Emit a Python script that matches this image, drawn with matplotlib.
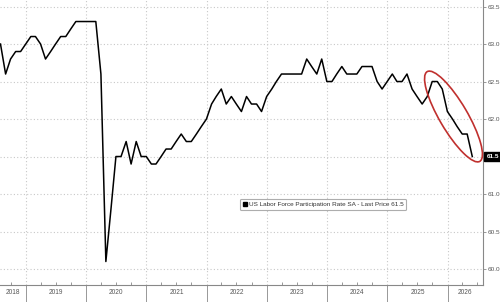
import numpy as np
import pandas as pd
import matplotlib
matplotlib.use("Agg")
import matplotlib.pyplot as plt
import matplotlib.dates as mdates
from matplotlib.patches import Ellipse
from matplotlib.lines import Line2D
from matplotlib.transforms import blended_transform_factory

plt.rcParams['font.family'] = ['Liberation Sans', 'DejaVu Sans']

# monthly US labor force participation rate
start_month = '2018-07-31'
lfpr = [63.0, 62.6, 62.8, 62.9, 62.9, 63.0, 63.1, 63.1, 63.0, 62.8,
        62.9, 63.0, 63.1, 63.1, 63.2, 63.3, 63.3, 63.3, 63.3, 63.3,
        62.6, 60.1, 60.8, 61.5, 61.5, 61.7, 61.4, 61.7, 61.5, 61.5,
        61.4, 61.4, 61.5, 61.6, 61.6, 61.7, 61.8, 61.7, 61.7, 61.8,
        61.9, 62.0, 62.2, 62.3, 62.4, 62.2, 62.3, 62.2, 62.1, 62.3,
        62.2, 62.2, 62.1, 62.3, 62.4, 62.5, 62.6, 62.6, 62.6, 62.6,
        62.6, 62.8, 62.7, 62.6, 62.8, 62.5, 62.5, 62.6, 62.7, 62.6,
        62.6, 62.6, 62.7, 62.7, 62.7, 62.5, 62.4, 62.5, 62.6, 62.5,
        62.5, 62.6, 62.4, 62.3, 62.2, 62.3, 62.5, 62.5, 62.4, 62.1,
        62.0, 61.9, 61.8, 61.8, 61.5]
years = [2018, 2019, 2020, 2021, 2022, 2023, 2024, 2025, 2026]
y_ticks = [60.0, 60.5, 61.0, 61.5, 62.0, 62.5, 63.0, 63.5]
last_price = 61.5
legend_label = 'US Labor Force Participation Rate SA - Last Price 61.5'

dates = pd.date_range(start_month, periods=len(lfpr), freq='ME')

W, H = 500, 302
fig = plt.figure(figsize=(W / 100, H / 100), dpi=100)
ax = fig.add_axes([0, 17 / H, 483 / W, 285 / H])

ax.plot(dates, lfpr, color='black', lw=1.1, zorder=3)

# axis limits
x0 = dates[0] - pd.Timedelta(days=3)
x1 = x0 + pd.Timedelta(days=2929)
ax.set_xlim(x0, x1)
ax.set_ylim(59.787, 63.587)

# grid
gray = '#c8c8c8'
for yv in y_ticks:
    ax.axhline(yv, color=gray, lw=0.8, ls=(0, (1, 2)), zorder=1)
for yr in years[1:]:
    ax.axvline(pd.Timestamp(f'{yr}-01-01'), color=gray, lw=0.8, ls=(0, (1, 2)), zorder=1)

# spines
for s in ['top', 'left']:
    ax.spines[s].set_visible(False)
for s in ['right', 'bottom']:
    ax.spines[s].set_color('#888888')
    ax.spines[s].set_linewidth(0.8)

# y axis on the right
ax.yaxis.tick_right()
ax.set_yticks(y_ticks)
ax.set_yticklabels(['' if v == last_price else f'{v:.1f}' for v in y_ticks])
ax.tick_params(axis='y', direction='out', length=2.5, width=0.6, color='#888888',
               labelsize=4.6, labelcolor='#555555', pad=0.8)

# x axis: year separators and quarterly minor ticks
ax.set_xticks([pd.Timestamp(f'{yr}-01-01') for yr in years[1:]])
ax.set_xticklabels([])
ax.xaxis.set_minor_locator(mdates.MonthLocator(bymonth=[4, 7, 10]))
ax.tick_params(axis='x', which='major', direction='out', length=13, width=0.6, color='#888888')
ax.tick_params(axis='x', which='minor', direction='in', length=2, width=0.6, color='#888888')

# year labels centred on visible part of each year
trans = blended_transform_factory(ax.transData, ax.transAxes)
xl = mdates.date2num(x0)
xr = mdates.date2num(x1)
for yr in years:
    a = max(mdates.date2num(pd.Timestamp(f'{yr}-01-01')), xl)
    b = min(mdates.date2num(pd.Timestamp(f'{yr + 1}-01-01')), xr)
    ax.text((a + b) / 2, -0.027, str(yr), transform=trans, ha='center', va='center',
            fontsize=4.7, color='#555555', clip_on=False)

# last price tag
ttrans = blended_transform_factory(ax.transAxes, ax.transData)
ax.text(1.007, last_price, f'{last_price:.1f}', transform=ttrans, ha='left', va='center',
        fontsize=4.6, color='white', fontweight='bold', zorder=5, clip_on=False,
        bbox=dict(boxstyle='square,pad=0.3', fc='black', ec='black'))

# legend
handle = Line2D([], [], color='black', marker='s', ls='none', markersize=3.5)
leg = ax.legend([handle], [legend_label], loc='center left', bbox_to_anchor=(0.497, 0.2825),
                fontsize=4.6, frameon=True, fancybox=True, handlelength=0.6,
                handletextpad=0.3, borderpad=0.45, borderaxespad=0)
leg.get_frame().set_edgecolor('#999999')
leg.get_frame().set_linewidth(0.8)
for t in leg.get_texts():
    t.set_color('#333333')

# red ellipse highlighting the recent drop
ell = Ellipse((4.535, (H - 116.5) / 100), 1.04, 0.28, angle=-59.6,
              transform=fig.dpi_scale_trans, fill=False, ec='#c0302e', lw=1.2,
              zorder=6, clip_on=False)
ax.add_patch(ell)

fig.savefig('out.png', dpi=100)
